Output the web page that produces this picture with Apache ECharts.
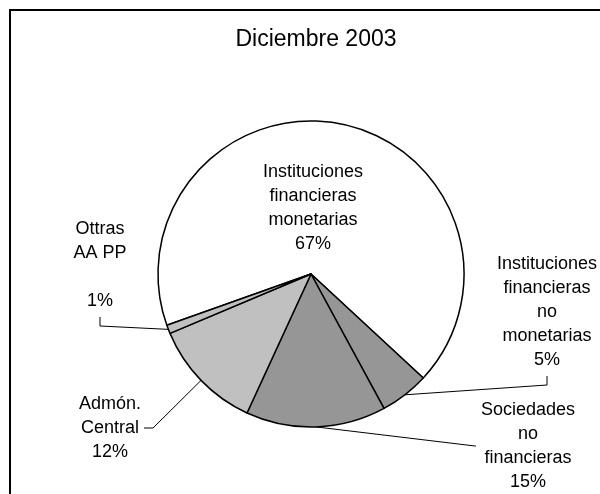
<!DOCTYPE html>
<html>
<head>
<meta charset="utf-8">
<script src="https://cdn.jsdelivr.net/npm/echarts@6/dist/echarts.min.js"></script>
<style>
	html, body { margin: 0; padding: 0; background: #fff; }
	#chart { width: 600px; height: 494px; }
</style>
</head>
<body>
<div id="chart"></div>
<script>
	// sectores, diciembre 2003 (% del total)
	const sectores = [
		'Instituciones\nfinancieras\nmonetarias',
		'Instituciones\nfinancieras\nno\nmonetarias',
		'Sociedades\nno\nfinancieras',
		'Admón.\nCentral',
		'Ottras\nAA PP\n'
	]
	const valores = [67.4, 5.2, 14.8, 11.8, 0.9]
	const colores = ['#ffffff', '#969696', '#969696', '#c0c0c0', '#c0c0c0']

	// donde va cada etiqueta (centro del bloque de texto) y por que lado sale la linea
	const posEtiquetas = [[313, 208], [547, 312], [528, 446], [110, 428], [100, 265]]
	const ladoLinea = [null, 'bottom', 'left', 'right', 'bottom']

	const mycharts = echarts.init(document.getElementById('chart'))
	mycharts.setOption({
		animation: false,
		title: {
			text: 'Diciembre 2003',
			left: 311,
			textAlign: 'center',
			top: 23,
			textStyle: {
				color: '#000',
				fontFamily: 'Liberation Sans',
				fontSize: 23,
				fontWeight: 'normal',
			},
		},
		graphic: [
			{
				type: 'rect',
				shape: { x: 10, y: 10, width: 620, height: 520 },
				style: { fill: 'none', stroke: '#000', lineWidth: 2 },
				silent: true,
			},
		],
		series: [
			{
				type: 'pie',
				center: [311, 274],
				radius: 153,
				startAngle: 199.6,
				clockwise: true,
				avoidLabelOverlap: false,
				data: sectores.map((n, i) => ({
					name: n,
					value: valores[i],
					itemStyle: { color: colores[i] },
					labelLine: { show: i !== 0 },
				})),
				itemStyle: {
					borderColor: '#000',
					borderWidth: 1.5,
				},
				label: {
					show: true,
					color: '#000',
					fontFamily: 'Liberation Sans',
					fontSize: 18,
					lineHeight: 24,
					align: 'center',
					formatter: (p) => p.name + '\n' + Math.round(p.percent) + '%',
				},
				labelLine: {
					length: 10,
					length2: 9,
					lineStyle: { color: '#000', width: 1 },
				},
				labelLayout: function (params) {
					const i = params.dataIndex
					const p = posEtiquetas[i]
					const out = { x: p[0], y: p[1], align: 'center', verticalAlign: 'middle' }
					const lado = ladoLinea[i]
					const pts = params.labelLinePoints
					if (lado && pts && pts.length) {
						// la linea parte del punto medio del arco
						const ini = pts[0]
						const w = params.labelRect.width
						const h = params.labelRect.height
						if (lado === 'bottom') {
							const b = p[1] + h / 2
							out.labelLinePoints = [ini, [p[0], b + 13], [p[0], b + 4]]
						} else if (lado === 'right') {
							const r = p[0] + w / 2
							out.labelLinePoints = [ini, [r + 12, p[1]], [r + 3, p[1]]]
						} else {
							const l = p[0] - w / 2
							out.labelLinePoints = [ini, [l - 6, p[1]], [l - 5, p[1]]]
						}
					}
					return out
				},
			},
		],
	})
</script>
</body>
</html>
